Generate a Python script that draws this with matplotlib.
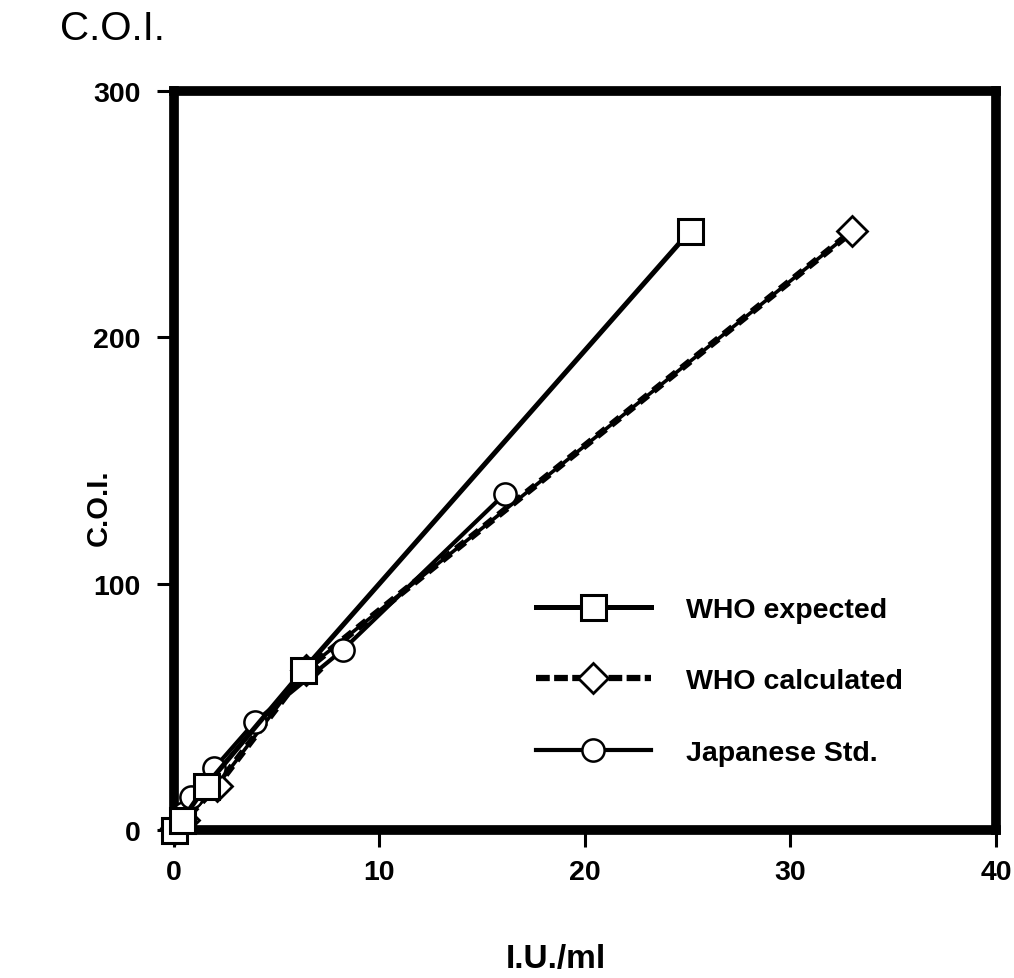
import matplotlib
matplotlib.use('Agg')
import matplotlib.pyplot as plt
from matplotlib.lines import Line2D

#%% data
who_exp_x = [0.0, 0.39, 1.56, 6.3, 25.1]
who_exp_y = [0, 4, 18, 65, 243]

who_calc_x = [0.12, 0.5, 2.1, 6.4, 33.0]
who_calc_y = [1, 4, 18, 65, 243]

jap_x = [0.5, 0.85, 1.95, 3.95, 8.2, 16.1]
jap_y = [7, 13.5, 25, 44, 73, 136.5]

xticks = [0, 10, 20, 30, 40]
yticks = [0, 100, 200, 300]

#%% figure
plt.rcParams['font.family'] = ['Liberation Sans', 'DejaVu Sans']

fig = plt.figure(figsize=(10.14, 9.79), dpi=100)
ax = fig.add_axes([0.1716, 0.1512, 0.8106, 0.7548])

# WHO expected
l1, = ax.plot(who_exp_x, who_exp_y, color='k', lw=3.6, marker='s', ms=18,
              mfc='white', mec='k', mew=2.2, clip_on=False, zorder=5)

# WHO calculated: solid line with heavy dashes on top
ax.plot(who_calc_x, who_calc_y, color='k', lw=2.6, clip_on=False, zorder=3)
ax.plot(who_calc_x, who_calc_y, color='k', lw=5, ls=(0, (1.6, 1.0)),
        marker='D', ms=15, mfc='white', mec='k', mew=2.0,
        clip_on=False, zorder=3)
# proxy for the legend
l2 = Line2D([], [], color='k', lw=4.5, ls=(0, (2.2, 0.7)),
            marker='D', ms=15, mfc='white', mec='k', mew=2.0)

# Japanese standard
l3, = ax.plot(jap_x, jap_y, color='k', lw=3.0, marker='o', ms=16,
              mfc='white', mec='k', mew=1.8, clip_on=False, zorder=4)

ax.set_xlim(0, 40)
ax.set_ylim(0, 300)
ax.set_xticks(xticks)
ax.set_yticks(yticks)
ax.tick_params(direction='out', length=12, width=2.2, pad=9, labelsize=20.5)
ax.tick_params(axis='y', pad=12)
for lab in ax.get_xticklabels() + ax.get_yticklabels():
    lab.set_fontweight('bold')
for sp in ax.spines.values():
    sp.set_linewidth(7)

ax.set_xlabel('I.U./ml', fontsize=24, fontweight='bold', va='baseline')
ax.xaxis.set_label_coords(0.465, -0.1854)
ax.set_ylabel('C.O.I.', fontsize=21, fontweight='bold', va='center')
ax.yaxis.set_label_coords(-0.0915, 0.438)
fig.text(60/1014, 1 - 40/979, 'C.O.I.', fontsize=29, ha='left', va='baseline')

leg = ax.legend([l1, l2, l3],
                ['WHO expected', 'WHO calculated', 'Japanese Std.'],
                loc='upper left', bbox_to_anchor=(0.426, 0.331),
                frameon=False, handlelength=4.04, handletextpad=1.23,
                labelspacing=1.6, borderaxespad=0,
                prop={'size': 20.5, 'weight': 'bold'})

fig.savefig('out.png', dpi=100)
